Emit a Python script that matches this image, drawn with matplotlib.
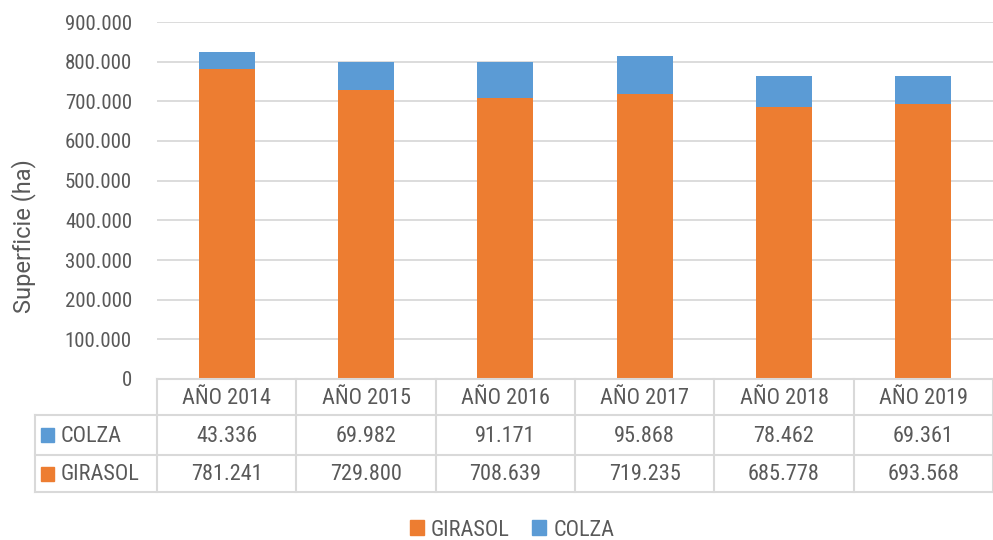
import matplotlib
matplotlib.use("Agg")
import matplotlib.pyplot as plt
from matplotlib import font_manager
from matplotlib.lines import Line2D
from matplotlib.patches import Rectangle
import numpy as np

categories = ["AÑO 2014", "AÑO 2015", "AÑO 2016", "AÑO 2017", "AÑO 2018", "AÑO 2019"]
girasol = [781241, 729800, 708639, 719235, 685778, 693568]
colza = [43336, 69982, 91171, 95868, 78462, 69361]
girasol_labels = ["781.241", "729.800", "708.639", "719.235", "685.778", "693.568"]
colza_labels = ["43.336", "69.982", "91.171", "95.868", "78.462", "69.361"]
yticks = [0, 100000, 200000, 300000, 400000, 500000, 600000, 700000, 800000, 900000]
ytick_labels = ["0", "100.000", "200.000", "300.000", "400.000", "500.000",
                "600.000", "700.000", "800.000", "900.000"]

names = {f.name for f in font_manager.fontManager.ttflist}
cond = [n for n in ['Roboto Condensed', 'Liberation Sans Narrow', 'Open Sans Condensed'] if n in names]
cond += sorted(n for n in names if ('ondensed' in n or 'Narrow' in n) and n not in cond)
COND = cond[:1] + ['Roboto', 'DejaVu Sans']
plt.rcParams['font.family'] = COND
ORANGE = "#ED7D31"
BLUE = "#5B9BD5"
TXT = "#595959"
GRID = "#D9D9D9"

W, H = 993, 540
fig = plt.figure(figsize=(W / 100, H / 100), dpi=100)

def fx(px):
    return px / W

def fy(py):
    return 1 - py / H

left, right, top, base = 157, 993, 22, 379
ax = fig.add_axes([fx(left), fy(base), fx(right) - fx(left), fy(top) - fy(base)])

x = np.arange(len(categories))
bw = 0.4
ax.bar(x, girasol, bw, color=ORANGE, label="GIRASOL", zorder=3)
ax.bar(x, colza, bw, bottom=girasol, color=BLUE, label="COLZA", zorder=3)
ax.set_xlim(-0.5, len(categories) - 0.5)
ax.set_ylim(0, 900000)
ax.set_yticks(yticks)
ax.set_yticklabels(ytick_labels, fontsize=15, color=TXT)
ax.yaxis.grid(True, color=GRID, linewidth=1.3, zorder=0)
ax.tick_params(axis='y', length=0, pad=18)
ax.set_xticks([])
for s in ax.spines.values():
    s.set_visible(False)
fig.text(fx(24), fy(236), "Superficie (ha)", rotation=90, ha='center', va='center',
         fontsize=17, color=TXT, family=['Roboto', 'DejaVu Sans'])

row_y = [379, 415, 455, 492]
col_x = [left + i * (right - left) / len(categories) for i in range(len(categories) + 1)]
lc = GRID
lw = 1.5
def hline(y, x0, x1):
    fig.add_artist(Line2D([fx(x0), fx(x1)], [fy(y), fy(y)], color=lc, lw=lw))
def vline(xp, y0, y1):
    fig.add_artist(Line2D([fx(xp), fx(xp)], [fy(y0), fy(y1)], color=lc, lw=lw))

hline(row_y[0], left, right)
for y in row_y[1:]:
    hline(y, 35, right)
for xp in col_x:
    vline(xp, row_y[0], row_y[3])
vline(35, row_y[1], row_y[3])

FS = 16
for i, c in enumerate(categories):
    cx = (col_x[i] + col_x[i + 1]) / 2
    fig.text(fx(cx), fy((row_y[0] + row_y[1]) / 2 + 1), c, ha='center', va='center', fontsize=FS, color=TXT)
    fig.text(fx(cx), fy((row_y[1] + row_y[2]) / 2 + 1), colza_labels[i], ha='center', va='center', fontsize=FS, color=TXT)
    fig.text(fx(cx), fy((row_y[2] + row_y[3]) / 2 + 1), girasol_labels[i], ha='center', va='center', fontsize=FS, color=TXT)

for name, col, r in [("COLZA", BLUE, 1), ("GIRASOL", ORANGE, 2)]:
    yc = (row_y[r] + row_y[r + 1]) / 2
    fig.add_artist(Rectangle((fx(41), fy(yc + 7)), fx(13), fy(0) - fy(14), color=col, transform=fig.transFigure))
    fig.text(fx(61), fy(yc + 1), name, ha='left', va='center', fontsize=FS, color=TXT)

handles = [Rectangle((0, 0), 1, 1, color=ORANGE), Rectangle((0, 0), 1, 1, color=BLUE)]
fig.legend(handles, ["GIRASOL", "COLZA"], loc='center', bbox_to_anchor=(fx(512), fy(530)),
           ncol=2, frameon=False, fontsize=FS, labelcolor=TXT,
           handlelength=0.65, handleheight=0.65, handletextpad=0.3, columnspacing=1.0)

fig.savefig("out.png", dpi=100)
